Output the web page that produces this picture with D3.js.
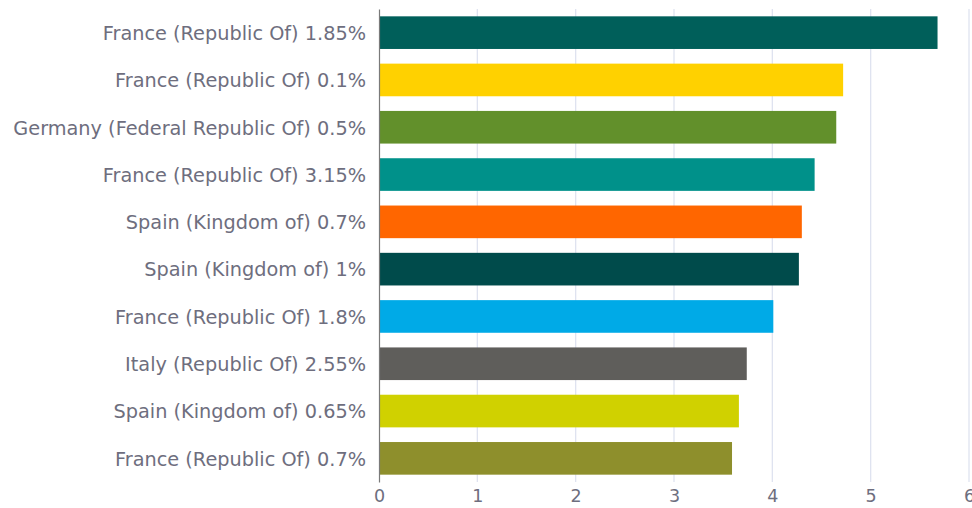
<!DOCTYPE html>
<html><head><meta charset="utf-8">
<script src="https://cdn.jsdelivr.net/npm/d3@7"></script>
<style>body{margin:0;background:#fff}svg{display:block}</style>
</head><body>
<svg id="c" width="972" height="508"></svg>
<script>
const categories = [
  "France (Republic Of) 1.85%",
  "France (Republic Of) 0.1%",
  "Germany (Federal Republic Of) 0.5%",
  "France (Republic Of) 3.15%",
  "Spain (Kingdom of) 0.7%",
  "Spain (Kingdom of) 1%",
  "France (Republic Of) 1.8%",
  "Italy (Republic Of) 2.55%",
  "Spain (Kingdom of) 0.65%",
  "France (Republic Of) 0.7%"
];
const values = [5.68, 4.72, 4.65, 4.43, 4.30, 4.27, 4.01, 3.74, 3.66, 3.59];
const colors = ["#005f5a","#ffd100","#62902b","#00918a","#ff6600","#004b4b","#00aae7","#5f5e5b","#d0d100","#8e8f2c"];
const xTicks = [0,1,2,3,4,5,6];

const svg = d3.select("#c");
const m = {l:379, r:969, t:9, b:482};
const x = d3.scaleLinear().domain([0,6]).range([m.l, m.r]);
const y = d3.scaleBand().domain(categories).range([m.t, m.b]).paddingInner(0.31).paddingOuter(0.155);
const font = "'DejaVu Sans', sans-serif";
const textCol = "#6e6e7e";

// gridlines
svg.append("g").selectAll("line").data(xTicks.filter(d=>d>0)).join("line")
  .attr("x1", d=>x(d)).attr("x2", d=>x(d))
  .attr("y1", m.t).attr("y2", m.b)
  .attr("stroke", "#dfe3f0").attr("stroke-width", 1.3);

// bars
svg.append("g").selectAll("rect").data(values).join("rect")
  .attr("x", x(0)).attr("y", (d,i)=>y(categories[i]))
  .attr("width", d=>x(d)-x(0)).attr("height", y.bandwidth())
  .attr("fill", (d,i)=>colors[i]);

// y axis
const ya = svg.append("g").attr("transform", `translate(${m.l},0)`)
  .call(d3.axisLeft(y).tickSize(0).tickPadding(13));
ya.select(".domain").attr("stroke", "#7a7a7a").attr("stroke-width", 1.2);
ya.selectAll("text").style("font-family", font).style("font-size", "19.3px").attr("fill", textCol).attr("dy", "0.38em");

// x axis
const xa = svg.append("g").attr("transform", `translate(0,${m.b})`)
  .call(d3.axisBottom(x).tickValues(xTicks).tickFormat(d3.format("d")).tickSize(0).tickPadding(8));
xa.select(".domain").remove();
xa.selectAll("text").style("font-family", font).style("font-size", "17.5px").attr("fill", textCol);
</script>
</body></html>
